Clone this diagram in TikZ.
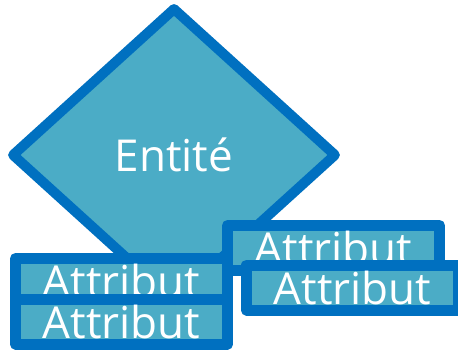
\documentclass[tikz,border=0pt]{standalone}
\usepackage{fontspec}
\setmainfont{Open Sans}
\usepackage{tikz}
\usetikzlibrary{shapes.geometric}
\usetikzlibrary{positioning}
\definecolor{rand}{HTML}{0070C0}
\definecolor{fuell}{HTML}{4BACC6}

\begin{document}
\begin{tikzpicture}[x=1pt,y=-1pt,
		entite/.style={diamond,draw=rand,fill=fuell,line width=10pt,line join=round,minimum width=326pt,minimum height=296pt,inner sep=0pt,text=white,font=\fontsize{44}{50}\selectfont},
		attribut/.style={rectangle,draw=rand,fill=fuell,line width=11pt,line join=round,minimum width=212pt,minimum height=45pt,inner sep=0pt,text=white,font=\fontsize{44}{50}\selectfont}]
		\useasboundingbox (0,0) rectangle (458,351);
		\draw (174,155) node[entite] (e) {Entité};
		\draw (333.5,248) node[attribut] (a1) {Attribut};
		\draw (121.5,281) node[attribut] (a2) {Attribut};
		\draw (352.5,287.5) node[attribut] (a3) {Attribut};
		\draw (121.5,321.5) node[attribut] (a4) {Attribut};
	\end{tikzpicture}
\end{document}
